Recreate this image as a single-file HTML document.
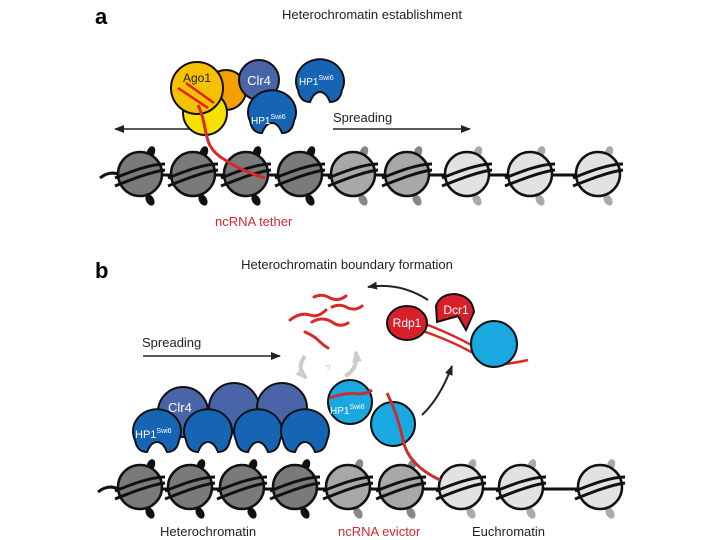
<!DOCTYPE html>
<html><head><meta charset="utf-8"><style>
html,body{margin:0;padding:0;background:#fff;}
svg{display:block;font-family:"Liberation Sans",sans-serif;}
</style></head><body>
<svg width="720" height="540" viewBox="0 0 720 540" xmlns="http://www.w3.org/2000/svg">
<defs>
<g id="nuc">
  <ellipse cx="11" cy="-22" rx="4" ry="6" fill="currentColor" transform="rotate(20 11 -22)"/>
  <ellipse cx="10" cy="26" rx="4" ry="6" fill="currentColor" transform="rotate(-30 10 26)"/>
  <circle cx="0" cy="0" r="22" stroke="#111" stroke-width="2.5"/>
  <path d="M-25 4 C-10 -2 10 -10 25 -10" stroke="#111" stroke-width="3" fill="none"/>
  <path d="M-25 12 C-10 6 10 -2 25 -4" stroke="#111" stroke-width="3" fill="none"/>
</g>
<path id="hp1" d="M-22 8 A24 22 0 1 1 22 8 Q20 20 10 20 Q6 10 0 10 Q-6 10 -10 20 Q-20 20 -22 8 Z" stroke="#111" stroke-width="2"/>
<marker id="ar" markerWidth="10" markerHeight="8" refX="9" refY="4" orient="auto" markerUnits="userSpaceOnUse"><path d="M0 0 L10 4 L0 8 Z" fill="#222"/></marker>
<marker id="arg" markerWidth="12" markerHeight="10" refX="10" refY="5" orient="auto" markerUnits="userSpaceOnUse"><path d="M0 0 L12 5 L0 10 Z" fill="#ccc"/></marker>
</defs>

<!-- Panel a -->
<text x="95" y="24" font-size="22" font-weight="bold">a</text>
<text x="372" y="19" font-size="13" text-anchor="middle" fill="#222">Heterochromatin establishment</text>

<path d="M100 178 Q110 170 120 175 L600 175 Q610 172 618 176" stroke="#111" stroke-width="3" fill="none"/>
<g fill="#7a7a7a" color="#111">
<use href="#nuc" x="140" y="174"/><use href="#nuc" x="193" y="174"/><use href="#nuc" x="246" y="174"/><use href="#nuc" x="300" y="174"/>
</g>
<g fill="#a8a8a8" color="#888">
<use href="#nuc" x="353" y="174"/><use href="#nuc" x="407" y="174"/>
</g>
<g fill="#e2e2e2" color="#aaa">
<use href="#nuc" x="467" y="174"/><use href="#nuc" x="530" y="174"/><use href="#nuc" x="598" y="174"/>
</g>

<line x1="195" y1="129" x2="115" y2="129" stroke="#222" stroke-width="1.5" marker-end="url(#ar)"/>
<text x="333" y="122" font-size="13" fill="#222">Spreading</text>
<line x1="333" y1="129" x2="470" y2="129" stroke="#222" stroke-width="1.5" marker-end="url(#ar)"/>

<circle cx="226" cy="90" r="20" fill="#f5a000" stroke="#111" stroke-width="2"/>
<circle cx="205" cy="113" r="22" fill="#f8e000" stroke="#111" stroke-width="2"/>
<circle cx="197" cy="88" r="26" fill="#f6c200" stroke="#111" stroke-width="2"/>
<text x="183" y="82" font-size="12" fill="#222">Ago1</text>
<circle cx="259" cy="80" r="20" fill="#4a64a8" stroke="#111" stroke-width="2"/>
<text x="259" y="85" font-size="13" fill="#fff" text-anchor="middle">Clr4</text>
<use href="#hp1" x="272" y="113" fill="#1565b4"/>
<text x="251" y="124" font-size="10" fill="#fff">HP1<tspan font-size="7" dy="-5">Swi6</tspan></text>
<use href="#hp1" x="320" y="82" fill="#1565b4"/>
<text x="299" y="85" font-size="10" fill="#fff">HP1<tspan font-size="7" dy="-5">Swi6</tspan></text>
<path d="M178 88 L208 108 M186 83 L214 103" stroke="#e02020" stroke-width="2.5"/>
<path d="M198 105 C210 130 200 145 225 160 C240 170 255 175 265 178" stroke="#d82828" stroke-width="3" fill="none"/>
<text x="215" y="226" font-size="13" fill="#d42a2a">ncRNA tether</text>

<!-- Panel b -->
<text x="95" y="278" font-size="22" font-weight="bold">b</text>
<text x="347" y="269" font-size="13" text-anchor="middle" fill="#222">Heterochromatin boundary formation</text>

<path d="M98 492 Q108 484 118 489 L600 489 Q610 486 618 490" stroke="#111" stroke-width="3" fill="none"/>
<g fill="#7a7a7a" color="#111">
<use href="#nuc" x="140" y="487"/><use href="#nuc" x="190" y="487"/><use href="#nuc" x="242" y="487"/><use href="#nuc" x="295" y="487"/>
</g>
<g fill="#a8a8a8" color="#888">
<use href="#nuc" x="348" y="487"/><use href="#nuc" x="401" y="487"/>
</g>
<g fill="#e2e2e2" color="#aaa">
<use href="#nuc" x="461" y="487"/><use href="#nuc" x="521" y="487"/><use href="#nuc" x="600" y="487"/>
</g>

<g stroke="#d82828" stroke-width="3" fill="none" stroke-linecap="round">
<path d="M314 297 Q322 293 330 298 Q338 302 346 296"/>
<path d="M332 307 Q340 303 348 308 Q356 311 362 306"/>
<path d="M290 320 Q300 312 310 315 Q318 318 326 310"/>
<path d="M312 322 Q322 316 332 322 Q340 328 348 323"/>
<path d="M305 332 Q314 336 318 340 Q323 345 328 348"/>
</g>
<text x="142" y="347" font-size="13" fill="#222">Spreading</text>
<line x1="143" y1="356" x2="280" y2="356" stroke="#222" stroke-width="1.5" marker-end="url(#ar)"/>
<path d="M305 356 Q296 368 306 378" stroke="#ccc" stroke-width="4" fill="none" marker-end="url(#arg)"/>
<path d="M345 376 Q358 370 356 352" stroke="#ccc" stroke-width="4" fill="none" marker-end="url(#arg)"/>
<text x="328" y="372" font-size="10" fill="#ccc" text-anchor="middle">?</text>

<g fill="#4a64a8" stroke="#111" stroke-width="2">
<circle cx="183" cy="412" r="25"/><circle cx="234" cy="408" r="25"/><circle cx="282" cy="408" r="25"/>
</g>
<text x="168" y="412" font-size="13" fill="#fff">Clr4</text>
<use href="#hp1" x="157" y="432" fill="#1565b4"/>
<use href="#hp1" x="208" y="432" fill="#1565b4"/>
<use href="#hp1" x="258" y="432" fill="#1565b4"/>
<use href="#hp1" x="305" y="432" fill="#1565b4"/>
<text x="135" y="438" font-size="11" fill="#fff">HP1<tspan font-size="7" dy="-5">Swi6</tspan></text>

<circle cx="350" cy="402" r="22" fill="#1aa8e0" stroke="#111" stroke-width="2"/>
<path d="M330 398 Q345 392 360 394 Q368 393 372 390" stroke="#c83030" stroke-width="3" fill="none"/>
<text x="330" y="414" font-size="10" fill="#fff">HP1<tspan font-size="7" dy="-5">Swi6</tspan></text>
<circle cx="393" cy="424" r="22" fill="#1aa8e0" stroke="#111" stroke-width="2"/>
<path d="M387 393 Q398 415 403 440 Q408 465 440 480" stroke="#c83030" stroke-width="3" fill="none"/>
<path d="M422 415 Q440 398 452 366" stroke="#222" stroke-width="2" fill="none" marker-end="url(#ar)"/>

<path d="M428 300 Q400 282 368 287" stroke="#222" stroke-width="2" fill="none" marker-end="url(#ar)"/>
<path d="M420 322 Q455 335 480 350 M420 330 Q455 342 478 356 M505 364 Q520 362 528 360" stroke="#d82828" stroke-width="2.5" fill="none"/>
<circle cx="494" cy="344" r="23" fill="#1aa8e0" stroke="#111" stroke-width="2"/>
<ellipse cx="407" cy="323" rx="20" ry="17" fill="#d8202a" stroke="#111" stroke-width="2"/>
<text x="407" y="327" font-size="12" fill="#fff" text-anchor="middle">Rdp1</text>
<path d="M437 322 L436 306 Q440 294 455 294 Q472 296 474 312 L466 330 L458 316 Z" fill="#d8202a" stroke="#111" stroke-width="2"/>
<text x="456" y="314" font-size="12" fill="#fff" text-anchor="middle">Dcr1</text>

<text x="160" y="536" font-size="13" fill="#222">Heterochromatin</text>
<text x="338" y="536" font-size="13" fill="#d42a2a">ncRNA evictor</text>
<text x="472" y="536" font-size="13" fill="#222">Euchromatin</text>
</svg>
</body></html>
